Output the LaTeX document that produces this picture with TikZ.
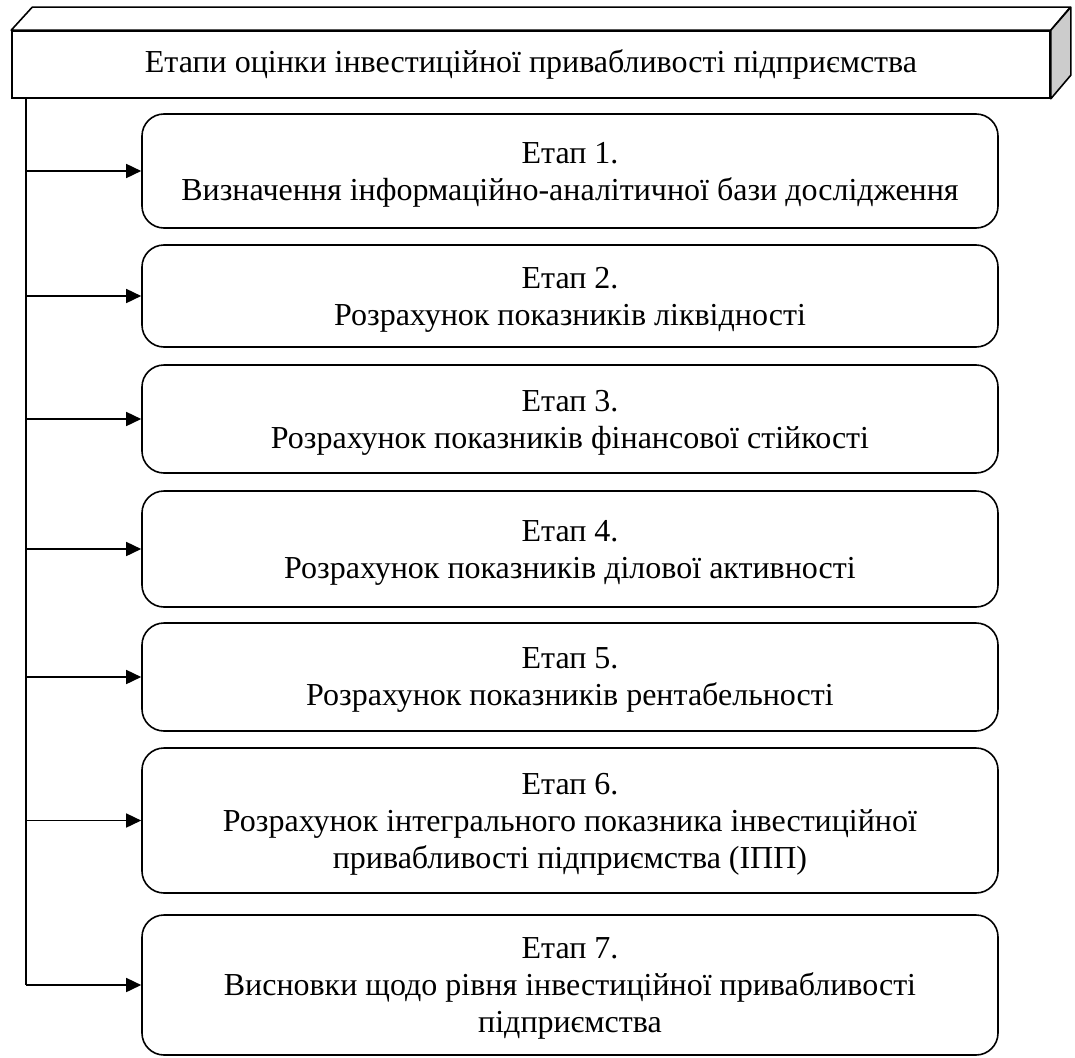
\documentclass[tikz,border=0pt]{standalone}
\usepackage{fontspec}
\setmainfont{Liberation Serif}
\usetikzlibrary{arrows.meta}
\begin{document}
\begin{tikzpicture}[x=1pt,y=-1pt,
  every node/.style={font=\fontsize{32}{37}\selectfont},
  stagebox/.style={draw,line width=1.6pt,rounded corners=22pt,minimum width=856pt,align=center,inner sep=0pt,text depth=0pt},
  frontbox/.style={draw,line width=1.6pt,minimum width=1038pt,minimum height=67pt,inner sep=0pt},
  conn/.style={line width=1.6pt},
  arr/.style={line width=1.6pt,-{Triangle[length=15pt,width=14pt]}}]
\useasboundingbox (0,0) rectangle (1075,1057);
% header 3D box
\node[frontbox] (head) at (531,64.5) {Етапи оцінки інвестиційної привабливості підприємства};
\draw[line width=1.6pt,fill=white,line join=round] (head.north west) -- ++(21,-23) -- ++(1038,0) -- (head.north east) -- cycle;
\draw[line width=1.6pt,fill=gray!40,line join=round] (head.north east) -- ++(20,-23) -- ++(0,68) -- (head.south east) -- cycle;
% stages
\node[stagebox,minimum height=114pt] (s1) at (570,171) {Етап 1.\\Визначення інформаційно-аналітичної бази дослідження};
\node[stagebox,minimum height=102pt] (s2) at (570,296) {Етап 2.\\Розрахунок показників ліквідності};
\node[stagebox,minimum height=108pt] (s3) at (570,419) {Етап 3.\\Розрахунок показників фінансової стійкості};
\node[stagebox,minimum height=116pt] (s4) at (570,549) {Етап 4.\\Розрахунок показників ділової активності};
\node[stagebox,minimum height=108pt] (s5) at (570,677) {Етап 5.\\Розрахунок показників рентабельності};
\node[stagebox,minimum height=145pt] (s6) at (570,820.5) {Етап 6.\\Розрахунок інтегрального показника інвестиційної\\привабливості підприємства (ІПП)};
\node[stagebox,minimum height=140pt] (s7) at (570,985) {Етап 7.\\Висновки щодо рівня інвестиційної привабливості\\підприємства};
% connectors
\coordinate (top) at (26,98);
\coordinate (bot) at (26,985);
\draw[conn] (top) -- (bot);
\foreach \s in {s1,s2,s3,s4,s5,s6,s7}{
  \draw[arr] (top |- \s.west) -- (\s.west);
}
\end{tikzpicture}
\end{document}
